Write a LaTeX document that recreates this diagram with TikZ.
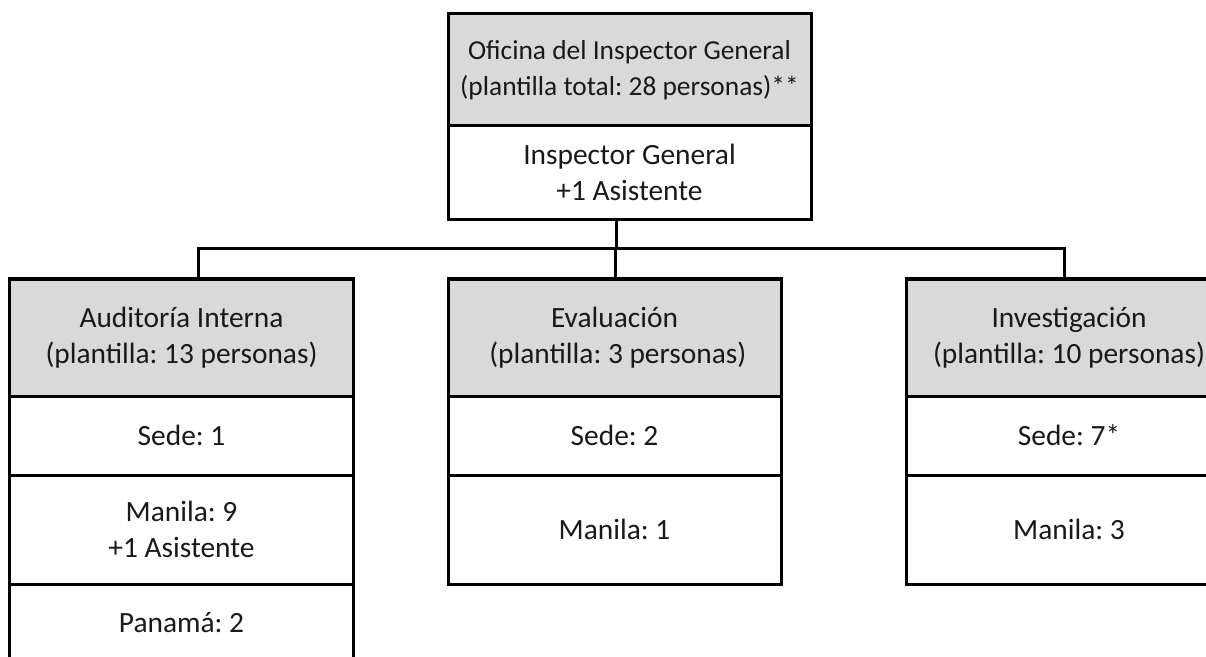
\documentclass[tikz,border=0pt]{standalone}
\usepackage{fontspec}
\setmainfont{Carlito}
\frenchspacing
\begin{document}
\begin{tikzpicture}[x=1bp,y=-1bp,
  every node/.style={inner sep=0pt, outer sep=0pt},
  cell/.style={draw=black, line width=3bp, align=center, font=\fontsize{29.5}{36}\selectfont, text=black!90},
  head/.style={cell, fill=black!15},
  conn/.style={draw=black, line width=3bp}]
\useasboundingbox (0,0) rectangle (1206,657);
\clip (0,0) rectangle (1206,657);
% top
\node[head, minimum width=363bp, minimum height=112bp, font=\fontsize{27.5}{36}\selectfont] (og) at (629.5,70) {Oficina del Inspector General\\(plantilla total: 28 personas)**};
\node[cell, minimum width=363bp, minimum height=93bp] (ig) at (629.5,172.5) {Inspector General\\+1 Asistente};
% left column
\node[head, minimum width=343bp, minimum height=117bp] (aud) at (181.5,337.5) {Auditoría Interna\\(plantilla: 13 personas)};
\node[cell, minimum width=343bp, minimum height=79bp] (auds) at (181.5,435.5) {Sede: 1};
\node[cell, minimum width=343bp, minimum height=109bp] (audm) at (181.5,529.5) {Manila: 9\\+1 Asistente};
\node[cell, minimum width=343bp, minimum height=78bp] (audp) at (181.5,623) {Panamá: 2};
% middle column
\node[head, minimum width=333bp, minimum height=117bp] (eva) at (614.5,337.5) {Evaluación\\\ (plantilla: 3 personas)};
\node[cell, minimum width=333bp, minimum height=79bp] (evas) at (614.5,435.5) {Sede: 2};
\node[cell, minimum width=333bp, minimum height=109bp] (evam) at (614.5,529.5) {Manila: 1};
% right column
\node[head, minimum width=326bp, minimum height=117bp] (inv) at (1069,337.5) {Investigación\\(plantilla: 10 personas)};
\node[cell, minimum width=326bp, minimum height=79bp] (invs) at (1069,435.5) {Sede: 7*};
\node[cell, minimum width=326bp, minimum height=109bp] (invm) at (1069,529.5) {Manila: 3};
% connectors
\coordinate (jT) at (616,248);
\coordinate (jL) at (198,248);
\coordinate (jM) at (615,248);
\coordinate (jR) at (1064,248);
\draw[conn] (ig.south -| jT) -- (jT);
\draw[conn, line cap=rect] (jL) -- (jR);
\draw[conn] (jL) -- (aud.north -| jL);
\draw[conn] (jM) -- (eva.north -| jM);
\draw[conn] (jR) -- (inv.north -| jR);
\end{tikzpicture}
\end{document}
